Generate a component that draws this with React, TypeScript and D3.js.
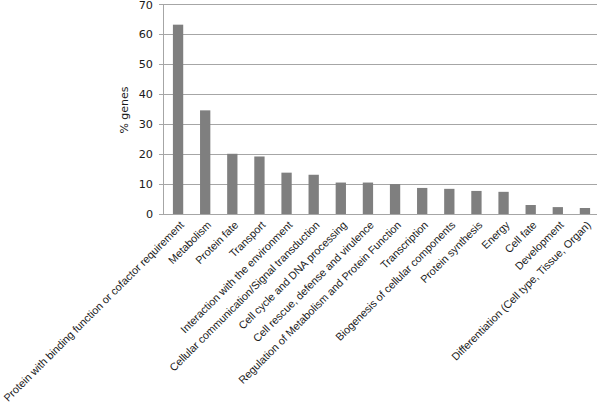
import React, { useEffect, useRef } from "react";
import * as d3 from "d3";

const categories = [
  "Protein with binding function or cofactor requirement",
  "Metabolism",
  "Protein fate",
  "Transport",
  "Interaction with the environment",
  "Cellular communication/Signal transduction",
  "Cell cycle and DNA processing",
  "Cell rescue, defense and virulence",
  "Regulation of Metabolism and Protein Function",
  "Transcription",
  "Biogenesis of cellular components",
  "Protein synthesis",
  "Energy",
  "Cell fate",
  "Development",
  "Differentiation (Cell type, Tissue, Organ)",
];
const values = [63.2, 34.6, 20.1, 19.2, 13.8, 13.1, 10.5, 10.5, 10.0, 8.7, 8.4, 7.7, 7.4, 3.0, 2.3, 2.0];
const yTicks = [0, 10, 20, 30, 40, 50, 60, 70];

const App = () => {
  const ref = useRef<SVGSVGElement>(null);

  useEffect(() => {
    const svg = d3.select(ref.current);
    svg.selectAll("*").remove();

    const left = 163, right = 597, top = 4.3, bottom = 214;

    // bands sit a touch right of the axis line, like the original
    const x = d3.scaleBand().domain(categories).range([left + 1.5, right + 1.5]).paddingInner(0.62).paddingOuter(0.31);
    const y = d3.scaleLinear().domain([0, 70]).range([bottom, top]);

    // gridlines
    svg
      .append("g")
      .selectAll("line")
      .data(yTicks)
      .join("line")
      .attr("x1", left)
      .attr("x2", right)
      .attr("y1", d => Math.round(y(d)) + 0.5)
      .attr("y2", d => Math.round(y(d)) + 0.5)
      .attr("stroke", "#a6a6a6")
      .attr("stroke-width", 1.2);

    // y axis line
    svg
      .append("line")
      .attr("x1", left + 0.5)
      .attr("x2", left + 0.5)
      .attr("y1", Math.round(y(70)))
      .attr("y2", bottom + 0.5)
      .attr("stroke", "#a6a6a6");

    // tick marks
    svg
      .append("g")
      .selectAll("line")
      .data(yTicks)
      .join("line")
      .attr("x1", left - 4)
      .attr("x2", left)
      .attr("y1", d => Math.round(y(d)) + 0.5)
      .attr("y2", d => Math.round(y(d)) + 0.5)
      .attr("stroke", "#a6a6a6");

    svg
      .append("g")
      .selectAll("text")
      .data(yTicks)
      .join("text")
      .attr("x", 153)
      .attr("y", d => Math.max(y(d), 5.2))
      .attr("dy", "0.36em")
      .attr("text-anchor", "end")
      .attr("font-family", "DejaVu Sans, Verdana, sans-serif")
      .attr("font-size", 11.2)
      .attr("fill", "#1a1a1a")
      .text(d => d);

    svg
      .append("text")
      .attr("transform", "translate(128,110) rotate(-90)")
      .attr("text-anchor", "middle")
      .attr("font-family", "DejaVu Sans, Verdana, sans-serif")
      .attr("font-size", 11)
      .attr("fill", "#1a1a1a")
      .text("% genes");

    // bars
    svg
      .append("g")
      .selectAll("rect")
      .data(values)
      .join("rect")
      .attr("x", (d, i) => x(categories[i])!)
      .attr("width", x.bandwidth())
      .attr("y", d => y(d))
      .attr("height", d => bottom - y(d))
      .attr("fill", "#7f7f7f");

    // category labels
    svg
      .append("g")
      .selectAll("text")
      .data(categories)
      .join("text")
      .attr("transform", d => `translate(${x(d)! + x.bandwidth() / 2 + 4},${bottom + 9}) rotate(-45)`)
      .attr("text-anchor", "end")
      .attr("dy", "0.35em")
      .attr("font-family", "Liberation Sans, Arial, sans-serif")
      .attr("font-size", 10.8)
      .attr("fill", "#1a1a1a")
      .text(d => d);
  }, []);

  return (
    <svg
      ref={ref}
      width={600}
      height={405}
      style={{ position: "absolute", left: 0, top: 0, background: "#fff" }}
    />
  );
};

export default App;
